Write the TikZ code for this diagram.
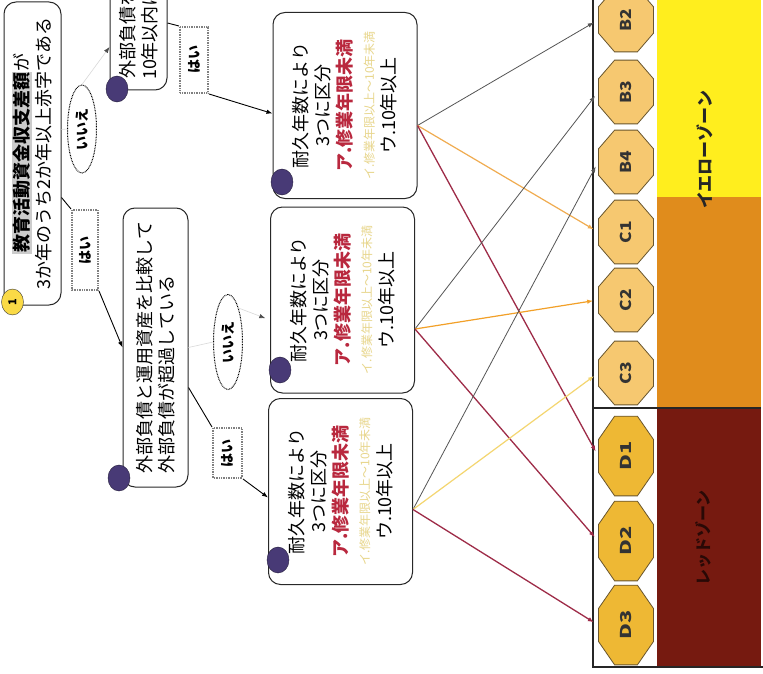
\documentclass[tikz,border=0pt]{standalone}
\usepackage{fontspec}
\usepackage{graphicx}
\setmainfont{Noto Sans CJK JP}
\usetikzlibrary{arrows.meta,positioning,shapes.geometric}
\setlength{\fboxsep}{1pt}

\definecolor{boxline}{RGB}{40,40,40}
\definecolor{zoneyellow}{RGB}{255,238,30}
\definecolor{zoneorange}{RGB}{224,140,28}
\definecolor{zonered}{RGB}{118,26,16}
\definecolor{octlight}{RGB}{246,200,112}
\definecolor{octdark}{RGB}{238,184,52}
\definecolor{octline}{RGB}{105,85,45}
\definecolor{numpurple}{RGB}{72,58,118}
\definecolor{numyellow}{RGB}{250,218,70}
\definecolor{redtext}{RGB}{185,40,62}
\definecolor{paletext}{RGB}{232,214,140}
\definecolor{linegray}{RGB}{85,85,85}
\definecolor{lineorange}{RGB}{240,172,80}
\definecolor{linegold}{RGB}{242,160,40}
\definecolor{lineyellow}{RGB}{244,214,112}
\definecolor{linered}{RGB}{158,44,72}

\newcommand{\durtext}{耐久年数により\\3つに区分\\{\color{redtext}\bfseries ア.修業年限未満}\\{\color{paletext}\fontsize{12}{22}\selectfont イ.修業年限以上～10年未満}\\ウ.10年以上}

\begin{document}
\begin{tikzpicture}[x=1pt,y=-1pt,>={Latex[length=6pt,width=4.5pt]},
  askbox/.style={draw=boxline,line width=1pt,rounded corners=12pt,fill=white,rotate=90,align=center,
    font=\fontsize{18}{22}\selectfont,inner sep=2pt},
  durbox/.style={askbox,minimum width=186pt,minimum height=144pt},
  yeslabel/.style={draw=black!50,line width=2pt,dash pattern=on 0.7pt off 1pt,fill=white,rotate=90,
    font=\fontsize{14}{14}\selectfont\bfseries,inner sep=1pt},
  nolabel/.style={yeslabel,ellipse,draw=black,line width=1pt,dash pattern=on 0.8pt off 0.8pt},
  numdot/.style={ellipse,draw=numpurple!50!black,fill=numpurple,minimum width=22pt,minimum height=26pt,inner sep=0pt},
  octa/.style={regular polygon,regular polygon sides=8,minimum size=59.5pt,draw=octline,line width=0.8pt,
    fill=octlight,inner sep=0pt,font=\fontsize{15}{15}\selectfont\bfseries,text=black!80,yscale=1.16},
  octd/.style={octa,fill=octdark,yscale=1.25},
  faint/.style={draw=black!15,line width=0.6pt},
  tolane/.style={->,shorten >=5pt}]
\useasboundingbox (0,0) rectangle (763,674);
\fill[white] (0,0) rectangle (763,674);
\clip (0,0) rectangle (763,674);

% zones on the right
\fill[zoneyellow] (657,0) rectangle (761,197);
\fill[zoneorange] (657,197) rectangle (761,407);
\fill[zonered] (657,409) rectangle (761,667);
\draw[line width=2.5pt,black!85] (593,408) -- (761,408);
\draw[line width=1.6pt,black!85] (593,0) -- (593,667) -- (763,667);
\node[rotate=90,font=\fontsize{17}{17}\selectfont\bfseries,text=black!85] (yzone) at (705,150) {イエローゾーン};
\node[rotate=90,font=\fontsize{16}{16}\selectfont\bfseries,text=zonered!35!black] (rzone) at (703,538) {レッドゾーン};

\node[octa] (b2) at (626,20) {\rotatebox{90}{B2}};
\node[octa] (b3) at (626,92) {\rotatebox{90}{B3}};
\node[octa] (b4) at (626,162) {\rotatebox{90}{B4}};
\node[octa] (c1) at (626,232) {\rotatebox{90}{C1}};
\node[octa] (c2) at (626,300) {\rotatebox{90}{C2}};
\node[octa] (c3) at (626,373) {\rotatebox{90}{C3}};
\node[octd] (d1) at (626,456) {\rotatebox{90}{D1}};
\node[octd] (d2) at (626,541) {\rotatebox{90}{D2}};
\node[octd] (d3) at (626,625) {\rotatebox{90}{D3}};

% question boxes
\node[askbox,minimum width=303pt,minimum height=57pt] (q1) at (32.5,153.5)
  {\colorbox{gray!40}{\bfseries 教育活動資金収支差額}が\\3か年のうち2か年以上赤字である};
\node[askbox,minimum width=279pt,minimum height=65pt,align=left] (q2) at (155.5,347.5)
  {外部負債と運用資産を比較して\\外部負債が超過している};
\node[askbox,minimum width=220pt,minimum height=57pt] (q3) at (138.5,-20)
  {外部負債を約定年数又は\\10年以内に返済できない};

\node[durbox] (r1) at (345,105.5) {\durtext};
\node[durbox] (r2) at (342.5,300) {\durtext};
\node[durbox] (r3) at (340.5,491.5) {\durtext};

% number marks
\node[numdot,fill=numyellow,draw=black!80,font=\fontsize{11}{11}\selectfont\bfseries] (m1) at (12.5,302) {\rotatebox{90}{1}};
\node[numdot] (m2) at (119,478) {};
\node[numdot] (m3) at (117,89) {};
\node[numdot] (m4) at (282,182) {};
\node[numdot] (m5) at (280,370) {};
\node[numdot] (m6) at (278,560) {};

% yes / no labels
\node[yeslabel,minimum width=80pt,minimum height=26pt] (y1) at (85,250) {はい};
\node[nolabel,minimum width=88pt,minimum height=29pt] (n1) at (82,129) {いいえ};
\node[yeslabel,minimum width=66pt,minimum height=28pt] (y2) at (194,60) {はい};
\node[nolabel,minimum width=95pt,minimum height=29pt] (n2) at (228,342) {いいえ};
\node[yeslabel,minimum width=50pt,minimum height=29pt] (y3) at (227.5,453) {はい};

\draw[line width=0.9pt] ([yshift=-44pt]q1.south) -- (y1.north east);
\draw[->,line width=0.9pt] (y1.south west) -- (q2.north);
\draw[faint] ([yshift=24pt]q1.south) -- (n1.north);
\draw[faint,-{Latex[length=6pt,width=4.5pt,color=black!70]}] (n1.east) -- ([yshift=-67pt]q3.north);
\draw[line width=0.9pt] ([yshift=-43pt]q3.south) -- (y2.north east);
\draw[->,line width=0.9pt] (y2.south west) -- ([yshift=-8pt]r1.north);
\draw[faint] (q2.south) -- (n2.north);
\draw[faint,-{Latex[length=6pt,width=4.5pt,color=black!70]},shorten >=5pt] (n2.south east) -- ([yshift=-20pt]r2.north);
\draw[line width=0.9pt] ([yshift=-40pt]q2.south) -- (y3.north east);
\draw[->,line width=0.9pt] (y3.south west) -- ([yshift=-6pt]r3.north);

% to the zones
\draw[tolane,linegray,line width=0.8pt] ([yshift=-20pt]r1.south) -- (b2.west);
\draw[tolane,lineorange,line width=1.2pt] ([yshift=-20pt]r1.south) -- (c1.west);
\draw[tolane,linered,line width=1.3pt] ([yshift=-20pt]r1.south) -- (d1.west);
\draw[tolane,linegray,line width=0.8pt] ([yshift=-29pt]r2.south) -- (b3.west);
\draw[tolane,linegold,line width=1.2pt] ([yshift=-29pt]r2.south) -- (c2.west);
\draw[tolane,linered,line width=1.3pt] ([yshift=-29pt]r2.south) -- (d2.west);
\draw[tolane,linegray,line width=0.8pt] ([yshift=-18pt]r3.south) -- (b4.west);
\draw[tolane,lineyellow,line width=1.2pt] ([yshift=-18pt]r3.south) -- (c3.west);
\draw[tolane,linered,line width=1.3pt] ([yshift=-18pt]r3.south) -- (d3.west);
\end{tikzpicture}
\end{document}
